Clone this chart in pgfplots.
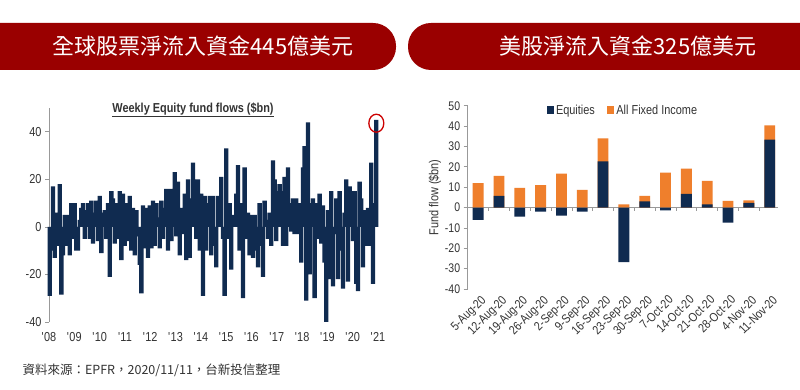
\documentclass[border=0pt]{standalone}
\usepackage{fontspec}
\setmainfont{Liberation Sans}
\newfontfamily\narrow[FakeStretch=0.84]{Liberation Sans}
\newfontfamily\cjk{Noto Sans CJK TC}
\usepackage{pgfplots}
\usepackage{pgfplotstable}
\pgfplotsset{compat=1.18}
\definecolor{navy}{HTML}{102B50}
\definecolor{orng}{HTML}{EF7F2C}
\definecolor{bred}{HTML}{9A0000}
\definecolor{txt}{HTML}{333333}

\pgfplotstableread{
x y
150 -29
155 -10
160 17
165 -13
170 6
175 -8
180 18
185 -28.5
190 -12
195 5
200 -8
205 5
210 -12
215 10
220 -5
225 10
230 -10
235 -10
240 3
245 8
250 10
255 -5
260 7
265 10
270 -5
275 11
280 -7
285 6
290 11
295 -6
300 13
305 -11
310 6
315 7
320 -5
325 10
330 -21
335 15
340 12
345 -7
350 10
355 -5
360 15
365 -14
370 14
375 -8
380 10
385 -6
390 13
395 -10
400 8
405 -12
410 7
415 -4
420 -16
425 -28
430 9
435 -9
440 8
445 -13
450 9
455 -9
460 11
465 -8
470 10
475 4
480 -9
485 11
490 -5
495 8
500 16
505 -10
510 16
515 -6
520 16
525 23
530 -4
535 19
540 -12
545 8
550 -3
555 14
560 -14
565 20
570 -13
575 12
580 27
585 20
590 -5
595 20
600 -10
605 14
610 -29
615 13
620 -10
625 10
630 13
635 -12
640 13
645 -8
650 -17
655 13
660 8
665 21
670 -5
675 -29
680 33
685 -5
690 10
695 -18
700 5
705 3
710 14
715 26
720 -10
725 10
730 -30
735 25
740 -5
745 6
750 -12
755 5
760 -13
765 5
770 -10
775 -17
780 10
785 -8
790 -21
795 11
800 3
805 -5
810 6
815 -8
820 28
825 20
830 -6
835 15
840 18
845 15
850 -8
855 21
860 -8
865 25
870 10
875 -2
880 12
885 -3
890 12
895 -3
900 10
905 -15
910 25
915 34
920 -31
925 44
930 -20
935 10
940 12
945 -30
950 10
955 -5
960 14
965 -7
970 9
975 -15
980 -40
985 7
990 -22
995 15
1000 -25
1005 -3
1010 12
1015 -22
1020 15
1025 -10
1030 -26
1035 6
1040 20
1045 -23
1050 17
1055 15
1060 -6
1065 15
1070 -24
1075 -27
1080 19
1085 12
1090 -17
1095 7
1100 -8
1105 8
1110 -8
1115 27
1120 -24
1125 10
1130 45
}\weekly

\pgfplotstableread{
x eq top
0 -6 12
1 5.7 15.5
2 -4.5 9.7
3 -2 11
4 -4 16.7
5 -2 8.7
6 22.7 34
7 -26.8 1.5
8 3 5.7
9 -1.4 17.1
10 6.7 19.1
11 1.5 13.1
12 -7.4 3.3
13 2.3 3.5
14 33.3 40.3
}\usflows

\begin{document}
\begin{tikzpicture}[x=1pt,y=1pt]
\useasboundingbox (0,0) rectangle (800,390);
\fill[white] (0,0) rectangle (800,390);
% banners
\fill[bred] (0,320) [sharp corners] -- (0,367) [rounded corners=23pt] -- (396,367) -- (396,320) [sharp corners] -- cycle;
\fill[bred] (800,320) [sharp corners] -- (800,367) [rounded corners=23pt] -- (408,367) -- (408,320) [sharp corners] -- cycle;
\node[text=white, font=\cjk\fontsize{22}{22}\selectfont] at (203,343.5) {全球股票淨流入資金445億美元};
\node[text=white, font=\cjk\fontsize{22}{22}\selectfont] at (628,343.5) {美股淨流入資金325億美元};

% left chart
\begin{axis}[at={(49pt,68pt)}, anchor=south west, scale only axis,
  width=329pt, height=214pt,
  xmin=148, xmax=1135, ymin=-40, ymax=50,
  axis lines*=left,
  x axis line style={draw=none},
  y axis line style={draw=gray!80, line width=0.6pt},
  ytick={-40,-20,0,20,40},
  yticklabels={-40,-20,0,20,40},
  xtick={148,223.92,299.85,375.77,451.69,527.62,603.54,679.46,755.38,831.31,907.23,983.15,1059.08,1135},
  xticklabels={\textquotesingle 08,\textquotesingle 09,\textquotesingle 10,\textquotesingle 11,\textquotesingle 12,\textquotesingle 13,\textquotesingle 14,\textquotesingle 15,\textquotesingle 16,\textquotesingle 17,\textquotesingle 18,\textquotesingle 19,\textquotesingle 20,\textquotesingle 21},
  x tick style={draw=none},
  y tick style={draw=gray!80, line width=0.6pt},
  tick align=outside,
  major tick length=4pt,
  tick label style={font=\narrow\fontsize{13}{13}\selectfont, text=txt},
  xticklabel style={yshift=-3pt},
  clip=false,
]
\addplot[ybar, bar width=13, bar shift=0pt, fill=navy, draw=none] table[x=x,y=y]{\weekly};
\draw[red!80!black, line width=1.3pt] (axis cs:1130,43.6) ellipse[x radius=7.5pt, y radius=9pt];
\end{axis}
\node[font=\narrow\bfseries\fontsize{13}{13}\selectfont, text=txt] at (193,280) {\underline{Weekly Equity fund flows (\$bn)}};
\node[anchor=west, font=\cjk\fontsize{12.5}{12.5}\selectfont, text=txt] at (19,20) {資料來源：EPFR，2020/11/11，台新投信整理};

% right chart
\begin{axis}[at={(467.7pt,101pt)}, anchor=south west, scale only axis,
  width=310.3pt, height=183.3pt,
  xmin=-0.5, xmax=14.4, ymin=-40, ymax=50,
  axis lines*=left,
  x axis line style={draw=none},
  y axis line style={draw=gray!80, line width=0.6pt},
  ytick={-40,-30,...,50},
  yticklabels={-40,-30,-20,-10,0,10,20,30,40,50},
  extra y ticks={0},
  extra y tick labels={},
  extra y tick style={grid=major, major grid style={draw=gray!80, line width=0.6pt}},
  xtick={0,...,14},
  xticklabels={5-Aug-20,12-Aug-20,19-Aug-20,26-Aug-20,2-Sep-20,9-Sep-20,16-Sep-20,23-Sep-20,30-Sep-20,7-Oct-20,14-Oct-20,21-Oct-20,28-Oct-20,4-Nov-20,11-Nov-20},
  x tick style={draw=none},
  y tick style={draw=gray!80, line width=0.6pt},
  tick align=outside,
  major tick length=4pt,
  tick label style={font=\narrow\fontsize{12.5}{12.5}\selectfont, text=txt},
  xticklabel style={rotate=45, anchor=north east, inner sep=0.5pt, xshift=1pt, yshift=-2pt},
  ylabel={Fund flow (\$bn)},
  ylabel style={font=\narrow\fontsize{13}{13}\selectfont, text=txt, yshift=-11pt},
  legend style={at={(0.5,0.975)}, anchor=center, draw=none, fill=none,
    legend columns=2, font=\narrow\fontsize{13}{13}\selectfont, text=txt,
    /tikz/every even column/.append style={column sep=10pt}},
  legend image code/.code={\fill[#1] (0pt,-3.8pt) rectangle (7.5pt,3.8pt);},
  clip=false,
]
\addplot[ybar, bar width=0.52, bar shift=0pt, fill=orng, draw=none, forget plot] table[x=x,y=top]{\usflows};
\addplot[ybar, bar width=0.52, bar shift=0pt, fill=navy, draw=none] table[x=x,y=eq]{\usflows};
\addlegendentry{Equities}
\addlegendimage{fill=orng, draw=none}
\addlegendentry{All Fixed Income}
\pgfplotsinvokeforeach{0.5,1.5,...,13.5}{\draw[gray!80, line width=0.6pt] (axis cs:#1,0) -- ++(0pt,-3pt);}
\end{axis}
\end{tikzpicture}
\end{document}
